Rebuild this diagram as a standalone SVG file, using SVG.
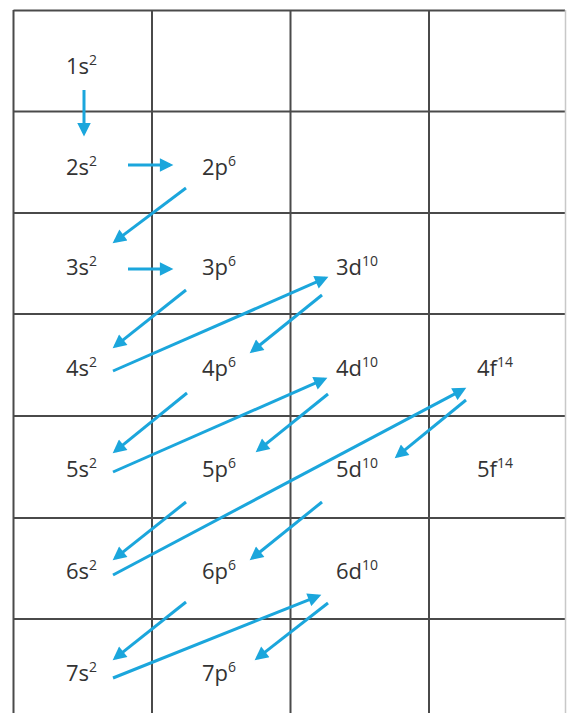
<svg xmlns="http://www.w3.org/2000/svg" width="568" height="713" viewBox="0 0 568 713">
<style>
.grid line{stroke:#4a4a4a;stroke-width:2}
.grid .edge{stroke:#c8c8c8;stroke-width:1.5}
.lbl{font-family:"Open Sans","Liberation Sans",sans-serif;font-size:22px;fill:#333}
.sup{font-size:14px}
.conn path{fill:none;stroke:#1ba6dc;stroke-width:3;marker-end:url(#ah)}
</style>
<defs>
<marker id="ah" viewBox="0 0 10 10" refX="7.5" refY="5" markerWidth="5" markerHeight="4.5" markerUnits="strokeWidth" orient="auto">
<path d="M0,0 L10,5 L0,10 z" fill="#1ba6dc"/>
</marker>
</defs>
<rect width="568" height="713" fill="#fff"/>
<g class="grid">
<line x1="13.5" y1="10.5" x2="565" y2="10.5"/>
<line x1="13.5" y1="111.5" x2="565" y2="111.5"/>
<line x1="13.5" y1="213" x2="565" y2="213"/>
<line x1="13.5" y1="314" x2="565" y2="314"/>
<line x1="13.5" y1="416" x2="565" y2="416"/>
<line x1="13.5" y1="518" x2="565" y2="518"/>
<line x1="13.5" y1="619" x2="565" y2="619"/>
<line x1="13.5" y1="10" x2="13.5" y2="713"/>
<line x1="152" y1="10" x2="152" y2="713"/>
<line x1="290.5" y1="10" x2="290.5" y2="713"/>
<line x1="429" y1="10" x2="429" y2="713"/>
<line class="edge" x1="565.5" y1="10" x2="565.5" y2="713"/>
</g>
<g class="conn">
<path d="M84,90 V133"/>
<path d="M128,165 H170"/>
<path d="M186,188 L115.3,241.1"/>
<path d="M128,269 H170"/>
<path d="M186,290 L115.3,346.1"/>
<path d="M113,371 L325.3,278.2"/>
<path d="M322,295 L252.3,351.1"/>
<path d="M187,393 L115.3,451.1"/>
<path d="M113,472 L324.3,379.2"/>
<path d="M328,394 L258.3,450.1"/>
<path d="M186,502 L115.3,558.1"/>
<path d="M113,575 L463.3,389.4"/>
<path d="M466,400 L397.3,456.1"/>
<path d="M322,502 L252.3,558.1"/>
<path d="M186,602 L115.3,658.1"/>
<path d="M113,678 L318.2,596.1"/>
<path d="M328,603 L257.3,658.1"/>
</g>
<g id="n1s"><text class="lbl" x="66" y="74">1s<tspan class="sup" dy="-9">2</tspan></text></g>
<g id="n2s"><text class="lbl" x="66" y="175">2s<tspan class="sup" dy="-9">2</tspan></text></g>
<g id="n2p"><text class="lbl" x="202" y="175">2p<tspan class="sup" dy="-9">6</tspan></text></g>
<g id="n3s"><text class="lbl" x="66" y="275">3s<tspan class="sup" dy="-9">2</tspan></text></g>
<g id="n3p"><text class="lbl" x="202" y="275">3p<tspan class="sup" dy="-9">6</tspan></text></g>
<g id="n3d"><text class="lbl" x="336" y="275">3d<tspan class="sup" dy="-9">10</tspan></text></g>
<g id="n4s"><text class="lbl" x="66" y="376">4s<tspan class="sup" dy="-9">2</tspan></text></g>
<g id="n4p"><text class="lbl" x="202" y="376">4p<tspan class="sup" dy="-9">6</tspan></text></g>
<g id="n4d"><text class="lbl" x="336" y="376">4d<tspan class="sup" dy="-9">10</tspan></text></g>
<g id="n4f"><text class="lbl" x="477" y="376">4f<tspan class="sup" dy="-9">14</tspan></text></g>
<g id="n5s"><text class="lbl" x="66" y="477">5s<tspan class="sup" dy="-9">2</tspan></text></g>
<g id="n5p"><text class="lbl" x="202" y="477">5p<tspan class="sup" dy="-9">6</tspan></text></g>
<g id="n5d"><text class="lbl" x="336" y="477">5d<tspan class="sup" dy="-9">10</tspan></text></g>
<g id="n5f"><text class="lbl" x="477" y="477">5f<tspan class="sup" dy="-9">14</tspan></text></g>
<g id="n6s"><text class="lbl" x="66" y="579">6s<tspan class="sup" dy="-9">2</tspan></text></g>
<g id="n6p"><text class="lbl" x="202" y="579">6p<tspan class="sup" dy="-9">6</tspan></text></g>
<g id="n6d"><text class="lbl" x="336" y="579">6d<tspan class="sup" dy="-9">10</tspan></text></g>
<g id="n7s"><text class="lbl" x="66" y="681">7s<tspan class="sup" dy="-9">2</tspan></text></g>
<g id="n7p"><text class="lbl" x="202" y="681">7p<tspan class="sup" dy="-9">6</tspan></text></g>
</svg>
